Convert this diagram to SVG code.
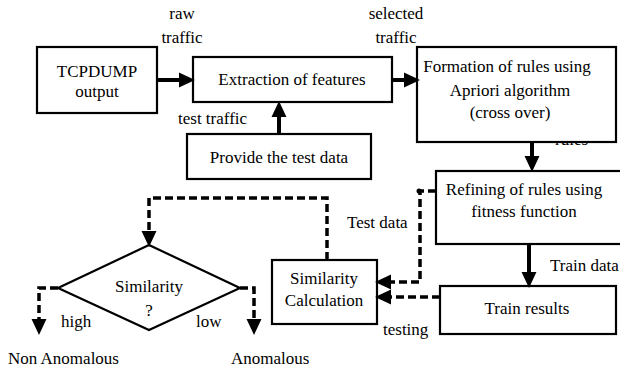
<svg xmlns="http://www.w3.org/2000/svg" width="620" height="376" viewBox="0 0 620 376" font-family="'Liberation Serif', 'DejaVu Serif', serif">
<style>
text{font-family:'Liberation Serif','DejaVu Serif',serif;font-size:17px;fill:#000}
.c{text-anchor:middle}
.box{fill:#fff;stroke:#000;stroke-width:2.2}
.solid{fill:none;stroke:#000;stroke-width:4}
.dash{fill:none;stroke:#000;stroke-width:3.5;stroke-dasharray:8,4}
</style>
<defs>
<marker id="ah" markerUnits="userSpaceOnUse" markerWidth="16" markerHeight="16" refX="0" refY="7" orient="auto" viewBox="0 0 15 14">
<path d="M0,0 L15,7 L0,14 z" fill="#000"/>
</marker>
</defs>
<rect x="0" y="0" width="620" height="376" fill="#fff"/>
<text x="555" y="145">rules</text>
<g id="tcpdump"><rect class="box" x="37" y="47" width="120" height="66"/><text class="c" x="97" y="77">TCPDUMP</text><text class="c" x="97" y="97">output</text></g>
<g id="extraction"><rect class="box" x="193" y="57" width="199" height="45"/><text class="c" x="292" y="85">Extraction of features</text></g>
<g id="provide"><rect class="box" x="187" y="134" width="184" height="45"/><text class="c" x="279" y="163">Provide the test data</text></g>
<g id="formation"><rect class="box" x="417" y="47" width="199" height="95"/><text class="c" x="507" y="72">Formation of rules using</text><text class="c" x="510" y="96">Apriori algorithm</text><text class="c" x="510" y="118">(cross over)</text></g>
<g id="refining"><rect class="box" x="436" y="171" width="200" height="73"/><text class="c" x="524" y="195">Refining of rules using</text><text class="c" x="524" y="217">fitness function</text></g>
<g id="train"><rect class="box" x="440" y="286" width="176" height="48"/><text class="c" x="527" y="314">Train results</text></g>
<g id="simcalc"><rect class="box" x="272" y="260" width="105" height="64"/><text class="c" x="324" y="284">Similarity</text><text class="c" x="324" y="306">Calculation</text></g>
<g id="decision"><path class="box" d="M149,245 L240,288 L149,330 L58,288 z"/><text class="c" x="149" y="292">Similarity</text><text class="c" x="149" y="316">?</text></g>
<g id="connectors">
<path class="solid" d="M157,80 H179" marker-end="url(#ah)"/>
<path class="solid" d="M279,134 V117" marker-end="url(#ah)"/>
<path class="solid" d="M392,80 H404" marker-end="url(#ah)"/>
<path class="solid" d="M532,142 V156" marker-end="url(#ah)"/>
<path class="solid" d="M529,244 V272" marker-end="url(#ah)"/>
<path class="dash" d="M440,297 H391" marker-end="url(#ah)"/>
<path class="dash" d="M436,191 H420 V282 H391" marker-end="url(#ah)"/>
<circle cx="419" cy="191" r="2.5" fill="#000"/>
<path class="dash" d="M327,260 V198 H149 V231" marker-end="url(#ah)"/>
<path class="dash" d="M58,288 H39 V319" marker-end="url(#ah)"/>
<path class="dash" d="M240,288 H254 V319" marker-end="url(#ah)"/>
</g>
<g id="labels">
<text class="c" x="182" y="19">raw</text>
<text class="c" x="182" y="43">traffic</text>
<text class="c" x="396" y="19">selected</text>
<text class="c" x="396" y="43">traffic</text>
<text x="178" y="124">test traffic</text>
<text x="347" y="228">Test data</text>
<text x="550" y="271">Train data</text>
<text x="383" y="335">testing</text>
<text x="61" y="327">high</text>
<text x="196" y="327">low</text>
<text x="8" y="364">Non Anomalous</text>
<text x="231" y="364">Anomalous</text>
</g>
</svg>
